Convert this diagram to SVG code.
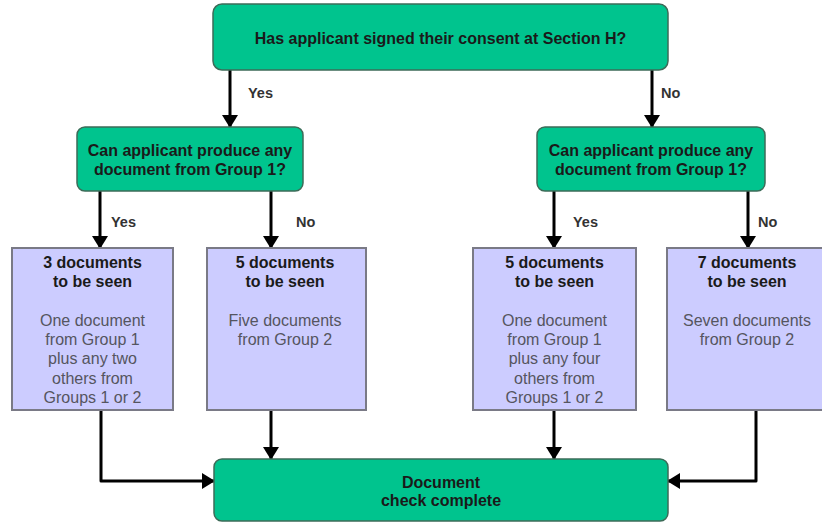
<svg xmlns="http://www.w3.org/2000/svg" width="822" height="523" viewBox="0 0 822 523">
<defs>
<style>
.dec{fill:#00c48e;stroke:#3d6b58;stroke-width:1.5}
.doc{fill:#ccccff;stroke:#7a7a86;stroke-width:2}
.t{font-family:"Liberation Sans",Arial,sans-serif;font-size:16px;font-weight:bold;fill:#1a1a1a;text-anchor:middle}
.b{font-family:"Liberation Sans",Arial,sans-serif;font-size:16px;fill:#555560;text-anchor:middle}
.lbl{font-family:"Liberation Sans",Arial,sans-serif;font-size:14.5px;font-weight:bold;fill:#333}
.c{fill:none;stroke:#000;stroke-width:3;stroke-linejoin:round;marker-end:url(#ah)}
</style>
<marker id="ah" markerUnits="userSpaceOnUse" viewBox="0 0 13 16" markerWidth="13" markerHeight="16" refX="13" refY="8" orient="auto">
<path d="M0,0 L13,8 L0,16 Z" fill="#000"/>
</marker>
</defs>
<rect width="822" height="523" fill="#fff"/>

<g id="connectors">
<path class="c" d="M230,70 V128"/>
<path class="c" d="M652,70 V128"/>
<path class="c" d="M100,191 V249"/>
<path class="c" d="M271,191 V249"/>
<path class="c" d="M554,191 V249"/>
<path class="c" d="M748,191 V249"/>
<path class="c" d="M101,410 V481 H215"/>
<path class="c" d="M271,410 V460"/>
<path class="c" d="M554,410 V460"/>
<path class="c" d="M756,410 V481 H667"/>
<text class="lbl" x="248" y="98">Yes</text>
<text class="lbl" x="661" y="98">No</text>
<text class="lbl" x="111" y="227">Yes</text>
<text class="lbl" x="296" y="227">No</text>
<text class="lbl" x="573" y="227">Yes</text>
<text class="lbl" x="758" y="227">No</text>
</g>

<g id="q-consent">
<rect class="dec" x="213" y="4" width="455" height="66" rx="9"/>
<text class="t" x="440.5" y="44">Has applicant signed their consent at Section H?</text>
</g>

<g id="q-group1-left">
<rect class="dec" x="77" y="127" width="226" height="64" rx="8"/>
<text class="t" x="190" y="156">Can applicant produce any</text>
<text class="t" x="190" y="175">document from Group 1?</text>
</g>

<g id="q-group1-right">
<rect class="dec" x="537" y="127" width="228" height="64" rx="8"/>
<text class="t" x="651" y="156">Can applicant produce any</text>
<text class="t" x="651" y="175">document from Group 1?</text>
</g>

<g id="docs-3">
<rect class="doc" x="12" y="248" width="161" height="162"/>
<text class="t" x="92.5" y="268">3 documents</text>
<text class="t" x="92.5" y="287">to be seen</text>
<text class="b" x="92.5" y="326">One document</text>
<text class="b" x="92.5" y="345">from Group 1</text>
<text class="b" x="92.5" y="364">plus any two</text>
<text class="b" x="92.5" y="384">others from</text>
<text class="b" x="92.5" y="403">Groups 1 or 2</text>
</g>

<g id="docs-5a">
<rect class="doc" x="207" y="248" width="159" height="162"/>
<text class="t" x="285" y="268">5 documents</text>
<text class="t" x="285" y="287">to be seen</text>
<text class="b" x="285" y="326">Five documents</text>
<text class="b" x="285" y="345">from Group 2</text>
</g>

<g id="docs-5b">
<rect class="doc" x="473" y="248" width="163" height="162"/>
<text class="t" x="554.5" y="268">5 documents</text>
<text class="t" x="554.5" y="287">to be seen</text>
<text class="b" x="554.5" y="326">One document</text>
<text class="b" x="554.5" y="345">from Group 1</text>
<text class="b" x="554.5" y="364">plus any four</text>
<text class="b" x="554.5" y="384">others from</text>
<text class="b" x="554.5" y="403">Groups 1 or 2</text>
</g>

<g id="docs-7">
<rect class="doc" x="667" y="248" width="162" height="162"/>
<text class="t" x="747" y="268">7 documents</text>
<text class="t" x="747" y="287">to be seen</text>
<text class="b" x="747" y="326">Seven documents</text>
<text class="b" x="747" y="345">from Group 2</text>
</g>

<g id="done">
<rect class="dec" x="214" y="459" width="454" height="62" rx="8"/>
<text class="t" x="441" y="488">Document</text>
<text class="t" x="441" y="506">check complete</text>
</g>
</svg>
